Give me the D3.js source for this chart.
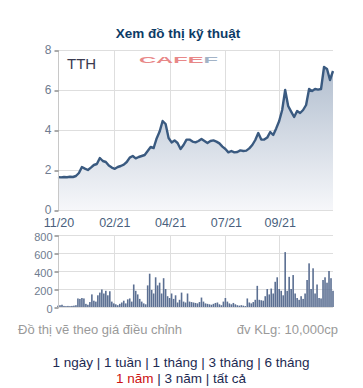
<!DOCTYPE html>
<html><head><meta charset="utf-8">
<script src="https://cdn.jsdelivr.net/npm/d3@7/dist/d3.min.js"></script>
<style>
body{margin:0;background:#fff;}
svg{display:block;font-family:"Liberation Sans",Arial,sans-serif;}
</style></head>
<body><svg id="c" width="363" height="388"></svg>
<script>
const title = "Xem đồ thị kỹ thuật";
const ticker = "TTH";
const xTickLabels = ["11/20","02/21","04/21","07/21","09/21"];
const xTickIndex = [0, 28, 56, 84, 111]; // session index in volume series
const priceTicks = [0, 2, 4, 6, 8];
const volTicks = [0, 200, 400, 600, 800];
const price = [1.65,1.63,1.65,1.64,1.66,1.65,1.70,1.85,2.15,2.07,2.00,2.12,2.25,2.30,2.60,2.45,2.40,2.22,2.12,2.06,
 2.15,2.20,2.27,2.40,2.62,2.70,2.58,2.65,2.70,2.75,2.95,3.15,3.10,3.58,3.92,4.45,4.30,3.60,3.38,3.48,
 3.35,3.05,3.25,3.52,3.52,3.42,3.38,3.45,3.55,3.45,3.35,3.45,3.48,3.42,3.33,3.17,3.05,2.88,2.95,2.88,
 2.90,2.98,2.95,2.97,3.08,3.25,3.50,3.85,3.52,3.52,3.62,3.90,3.75,4.08,4.45,5.00,6.00,5.20,4.92,4.65,
 4.95,4.85,5.00,5.25,6.05,5.95,6.05,6.02,6.05,7.15,7.05,6.50,6.95];
const volume = [15,20,25,12,10,12,10,12,15,20,95,90,100,95,35,25,55,140,70,60,
 130,160,195,150,180,130,175,60,40,30,20,35,50,70,40,85,95,60,250,180,
 140,90,60,40,30,240,370,190,150,330,240,270,150,320,200,120,100,150,90,130,
 50,80,160,60,50,150,60,55,50,45,40,55,105,60,40,35,30,25,35,45,
 50,30,20,60,100,60,40,30,45,30,20,15,20,15,10,95,50,40,55,80,
 235,80,75,70,120,200,140,205,150,280,330,200,180,130,610,180,335,200,355,150,
 100,80,120,90,150,300,485,200,430,150,250,100,95,300,330,270,400,320,180];
const footLeft = "Đồ thị vẽ theo giá điều chỉnh";
const footRight = "đv KLg: 10,000cp";
const links1 = "1 ngày | 1 tuần | 1 tháng | 3 tháng | 6 tháng";
const links2a = "1 năm";
const links2b = " | 3 năm | tất cả";

const svg = d3.select("#c");
const L = 58, R = 333;
const pTop = 50, pBot = 210, vTop = 235, vBot = 307;
const grid = "#dedede";

const xv = d3.scaleLinear().domain([0, volume.length - 1]).range([L, R]);
const xp = d3.scaleLinear().domain([0, price.length - 1]).range([L, R]);
const yp = d3.scaleLinear().domain([0, 8]).range([pBot, pTop]);
const yv = d3.scaleLinear().domain([0, 800]).range([vBot, vTop]);

const defs = svg.append("defs");
const g = defs.append("linearGradient").attr("id","ag").attr("gradientUnits","userSpaceOnUse")
  .attr("x1",0).attr("y1",pTop).attr("x2",0).attr("y2",pBot);
g.append("stop").attr("offset",0).attr("stop-color","#aab8ca");
g.append("stop").attr("offset",1).attr("stop-color","#f6f7fa");

svg.append("text").attr("x",178).attr("y",38).attr("text-anchor","middle")
  .attr("font-weight","bold").attr("font-size",13.5).attr("fill","#0d3b66").text(title);

// price grid
const gp = svg.append("g");
gp.selectAll(".hg").data(priceTicks).join("line")
  .attr("x1",L).attr("x2",R).attr("y1",d=>yp(d)+0.5).attr("y2",d=>yp(d)+0.5)
  .attr("stroke",grid);
gp.selectAll(".vg").data(xTickIndex).join("line")
  .attr("x1",d=>Math.round(xv(d))+0.5).attr("x2",d=>Math.round(xv(d))+0.5)
  .attr("y1",pTop).attr("y2",pBot).attr("stroke",grid);

// area + line
const area = d3.area().x((d,i)=>xp(i)).y0(pBot).y1(d=>yp(d));
const line = d3.line().x((d,i)=>xp(i)).y(d=>yp(d));
svg.append("path").datum(price).attr("d",area).attr("fill","url(#ag)");
svg.append("path").datum(price).attr("d",line).attr("fill","none")
  .attr("stroke","#3a5a80").attr("stroke-width",2.4).attr("stroke-linejoin","round");

// axes
const ayp = d3.axisLeft(yp).tickValues(priceTicks).tickSize(4).tickPadding(3);
const gax = svg.append("g").attr("transform",`translate(${L+0.5},0.5)`).call(ayp);
gax.select(".domain").attr("stroke","#c8c8c8").attr("d",`M0,${pTop}V${pBot}`);
gax.selectAll(".tick line").attr("stroke","#555");
gax.selectAll(".tick text").attr("font-size",12).attr("dy","0.28em").attr("fill","#6f7c8f").attr("font-family","Liberation Sans, Arial");

const axx = d3.axisBottom(xv).tickValues(xTickIndex).tickFormat((d,i)=>xTickLabels[i]).tickSize(0).tickPadding(8.6);
const gxx = svg.append("g").attr("transform",`translate(0.5,${pBot})`).call(axx);
gxx.select(".domain").remove();
gxx.selectAll(".tick text").attr("font-size",12.5).attr("fill","#4a5f7d").attr("font-family","Liberation Sans, Arial");

// logo + ticker
svg.append("text").attr("x",67).attr("y",69).attr("font-size",15).attr("fill","#3a3a50").text(ticker);
const logo = svg.append("text").attr("x",139).attr("y",63).attr("font-size",9.5).attr("font-weight","bold")
  .attr("textLength",79).attr("lengthAdjust","spacingAndGlyphs");
logo.append("tspan").attr("fill","#e88888").text("CAFE");
logo.append("tspan").attr("fill","#a3b3c6").text("F");

// volume grid
const gv = svg.append("g");
gv.selectAll("line.h").data(volTicks).join("line")
  .attr("x1",L).attr("x2",R).attr("y1",d=>yv(d)+0.5).attr("y2",d=>yv(d)+0.5).attr("stroke",grid);
gv.selectAll("line.v").data(xTickIndex).join("line").attr("class","v")
  .attr("x1",d=>Math.round(xv(d))+0.5).attr("x2",d=>Math.round(xv(d))+0.5)
  .attr("y1",vTop).attr("y2",vBot).attr("stroke",grid);

svg.append("g").selectAll("rect").data(volume).join("rect")
  .attr("x",(d,i)=>xv(i)-0.8).attr("width",1.6)
  .attr("y",d=>yv(d)).attr("height",d=>vBot-yv(d)).attr("fill","#5b6f92");

const ayv = d3.axisLeft(yv).tickValues(volTicks).tickSize(4).tickPadding(2);
const gav = svg.append("g").attr("transform",`translate(${L+0.5},0.5)`).call(ayv);
gav.select(".domain").attr("stroke","#c8c8c8").attr("d",`M0,${vTop}V${vBot}`);
gav.selectAll(".tick line").attr("stroke","#555");
gav.selectAll(".tick text").attr("font-size",11).attr("dy","0.42em").attr("fill","#6f7c8f").attr("font-family","Liberation Sans, Arial");

// footer
svg.append("text").attr("x",18).attr("y",334).attr("font-size",13).attr("fill","#9a9a9a").text(footLeft);
svg.append("text").attr("x",338).attr("y",334).attr("text-anchor","end").attr("font-size",13).attr("fill","#9a9a9a").text(footRight);
svg.append("text").attr("x",181).attr("y",367).attr("text-anchor","middle").attr("font-size",13.5).attr("fill","#1c2a52").text(links1);
const t2 = svg.append("text").attr("x",181).attr("y",383).attr("text-anchor","middle").attr("font-size",13.5);
t2.append("tspan").attr("fill","#cc1111").text(links2a);
t2.append("tspan").attr("fill","#1c2a52").text(links2b);
</script></body></html>
